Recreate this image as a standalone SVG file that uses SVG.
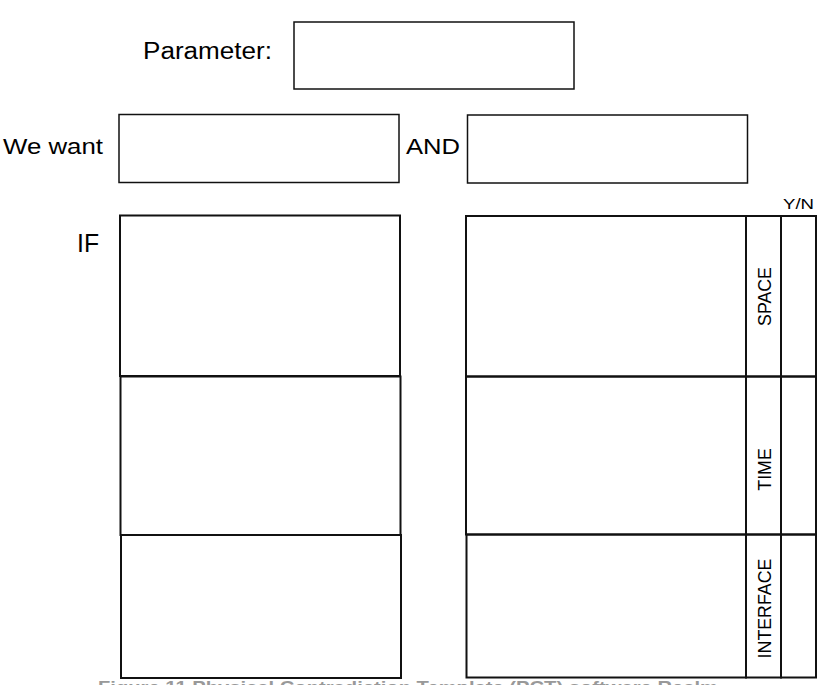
<svg xmlns="http://www.w3.org/2000/svg" width="839" height="685" viewBox="0 0 839 685">
<style>
.box{fill:#fff;stroke:#111;stroke-width:1.5}
.cell{fill:none;stroke:#111;stroke-width:2}
.lbl{font-family:"Liberation Sans",Arial,sans-serif;fill:#000}
.vlbl{font-family:"Liberation Sans",Arial,sans-serif;font-size:17.8px;fill:#000;text-anchor:middle}
.cap{font-family:"Liberation Sans",Arial,sans-serif;font-size:17px;font-weight:bold;fill:#999}
</style>
<rect width="839" height="685" fill="#fff"/>
<g id="parameter">
<text class="lbl" x="143" y="59" font-size="23" textLength="129" lengthAdjust="spacingAndGlyphs">Parameter:</text>
<rect class="box" x="294" y="22" width="280" height="67"/>
</g>
<g id="we-want">
<text class="lbl" x="3" y="154" font-size="22.5" textLength="100" lengthAdjust="spacingAndGlyphs">We want</text>
<rect class="box" x="119" y="114.5" width="280" height="68"/>
</g>
<g id="and">
<text class="lbl" x="406" y="154" font-size="22.5" textLength="54" lengthAdjust="spacingAndGlyphs">AND</text>
<rect class="box" x="467.5" y="115" width="280" height="68"/>
</g>
<g id="if-label">
<text class="lbl" x="77" y="251.5" font-size="25" textLength="22" lengthAdjust="spacingAndGlyphs">IF</text>
</g>
<g id="if-1"><rect class="cell" x="120" y="215.5" width="280" height="160.5"/></g>
<g id="if-2"><rect class="cell" x="120.5" y="376.5" width="280" height="158.5"/></g>
<g id="if-3"><rect class="cell" x="121" y="535" width="280" height="143"/></g>
<g id="yn-label">
<text class="lbl" x="783" y="209" font-size="14.5" textLength="31" lengthAdjust="spacingAndGlyphs">Y/N</text>
</g>
<g id="space-row">
<rect class="cell" x="466" y="216" width="280" height="160.5"/>
<rect class="cell" x="746" y="216" width="35" height="160.5"/>
<rect class="cell" x="781" y="216" width="35" height="160.5"/>
<text class="vlbl" transform="translate(771 296.5) rotate(-90)">SPACE</text>
</g>
<g id="time-row">
<rect class="cell" x="466" y="376.5" width="280" height="158"/>
<rect class="cell" x="746" y="376.5" width="35" height="158"/>
<rect class="cell" x="781" y="376.5" width="35" height="158"/>
<text class="vlbl" transform="translate(771 469.5) rotate(-90)">TIME</text>
</g>
<g id="interface-row">
<rect class="cell" x="466.5" y="534.5" width="279.5" height="143"/>
<rect class="cell" x="746" y="534.5" width="35" height="143"/>
<rect class="cell" x="781" y="534.5" width="35" height="143"/>
<text class="vlbl" transform="translate(771 608.5) rotate(-90)">INTERFACE</text>
</g>
<g id="connectors"></g>
<text class="cap" x="98" y="693" textLength="620" lengthAdjust="spacingAndGlyphs">Figure 11 Physical Contradiction Template (PCT) software Realm</text>
</svg>
